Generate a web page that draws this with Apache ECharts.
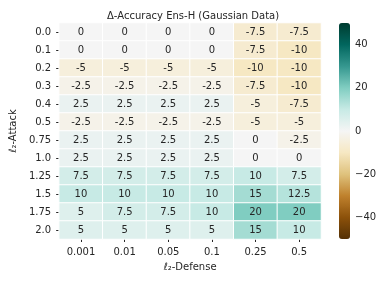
<!DOCTYPE html>
<html>
<head>
<meta charset="utf-8">
<script src="https://cdn.jsdelivr.net/npm/echarts@6/dist/echarts.min.js"></script>
<style>html,body{margin:0;padding:0;background:#fff}#c{width:385px;height:282px}</style>
</head>
<body>
<div id="c"></div>
<script>
var defenseLabels = ['0.001', '0.01', '0.05', '0.1', '0.25', '0.5'];
var attackLabels = ['0.0', '0.1', '0.2', '0.3', '0.4', '0.5', '0.75', '1.0', '1.25', '1.5', '1.75', '2.0'];
var row00 = [0, 0, 0, 0, -7.5, -7.5];
var row01 = [0, 0, 0, 0, -7.5, -10];
var row02 = [-5, -5, -5, -5, -10, -10];
var row03 = [-2.5, -2.5, -2.5, -2.5, -7.5, -10];
var row04 = [2.5, 2.5, 2.5, 2.5, -5, -7.5];
var row05 = [-2.5, -2.5, -2.5, -2.5, -5, -5];
var row075 = [2.5, 2.5, 2.5, 2.5, 0, -2.5];
var row10 = [2.5, 2.5, 2.5, 2.5, 0, 0];
var row125 = [7.5, 7.5, 7.5, 7.5, 10, 7.5];
var row15 = [10, 10, 10, 10, 15, 12.5];
var row175 = [5, 7.5, 7.5, 10, 20, 20];
var row20 = [5, 5, 5, 5, 15, 10];
var colorbarTicks = [-40, -20, 0, 20, 40];
var colorMin = -50, colorMax = 50;

var rows = [row00, row01, row02, row03, row04, row05, row075, row10, row125, row15, row175, row20];
var data = [];
rows.forEach(function (r, i) {
  r.forEach(function (v, j) { data.push([j, i, v]); });
});

var txt = '#262626';
var font = 'DejaVu Sans';
var chart = echarts.init(document.getElementById('c'), null, {renderer: 'canvas'});
chart.setOption({
  animation: false,
  textStyle: {fontFamily: font},
  title: {
    text: 'Δ-Accuracy Ens-H (Gaussian Data)',
    left: 188, top: 6, textAlign: 'center',
    textStyle: {fontSize: 10, fontWeight: 'normal', color: txt, fontFamily: font}
  },
  grid: [
    {left: 55, top: 23, width: 266, height: 216},
    {left: 339, top: 23, width: 11, height: 216}
  ],
  xAxis: [{
    type: 'category', data: defenseLabels, gridIndex: 0,
    name: 'ℓ₂-Defense', nameLocation: 'middle', nameGap: 23,
    nameTextStyle: {fontSize: 10, color: txt, fontFamily: font},
    axisLine: {show: false},
    axisTick: {show: true, alignWithLabel: true, length: 3, lineStyle: {color: txt}},
    axisLabel: {fontSize: 10, color: txt, margin: 8, fontFamily: font},
    splitLine: {show: false}
  }, {
    type: 'value', gridIndex: 1, show: false, min: 0, max: 1
  }],
  yAxis: [{
    type: 'category', data: attackLabels, gridIndex: 0, inverse: true,
    name: 'ℓ₂-Attack', nameLocation: 'middle', nameGap: 38, nameRotate: 90,
    nameTextStyle: {fontSize: 10, color: txt, fontFamily: font},
    axisLine: {show: false},
    axisTick: {show: true, alignWithLabel: true, length: 3, lineStyle: {color: txt}},
    axisLabel: {fontSize: 10, color: txt, margin: 8, fontFamily: font},
    splitLine: {show: false}
  }, {
    type: 'value', gridIndex: 1, position: 'right', min: colorMin, max: colorMax,
    axisLine: {show: false},
    splitLine: {show: false},
    axisTick: {show: true, length: 3, lineStyle: {color: txt}, customValues: colorbarTicks},
    axisLabel: {
      fontSize: 10, color: txt, margin: 5, fontFamily: font, customValues: colorbarTicks,
      formatter: function (v) { return String(v).replace('-', '\u2212'); }
    }
  }],
  visualMap: {
    type: 'continuous', min: colorMin, max: colorMax, seriesIndex: 0,
    calculable: false, orient: 'vertical', left: 339, top: 23,
    itemWidth: 11, itemHeight: 216, padding: 0, text: ['', ''], showLabel: false,
    inRange: {color: ['#543005', '#8c510a', '#bf812d', '#dfc27d', '#f6e8c3', '#f5f5f5', '#c7eae5', '#80cdc1', '#35978f', '#01665e', '#003c30']}
  },
  series: [{
    type: 'heatmap', data: data, xAxisIndex: 0, yAxisIndex: 0,
    itemStyle: {borderColor: '#ffffff', borderWidth: 1},
    label: {show: true, fontSize: 10, color: txt, fontFamily: font},
    emphasis: {disabled: true}
  }]
});
</script>
</body>
</html>
